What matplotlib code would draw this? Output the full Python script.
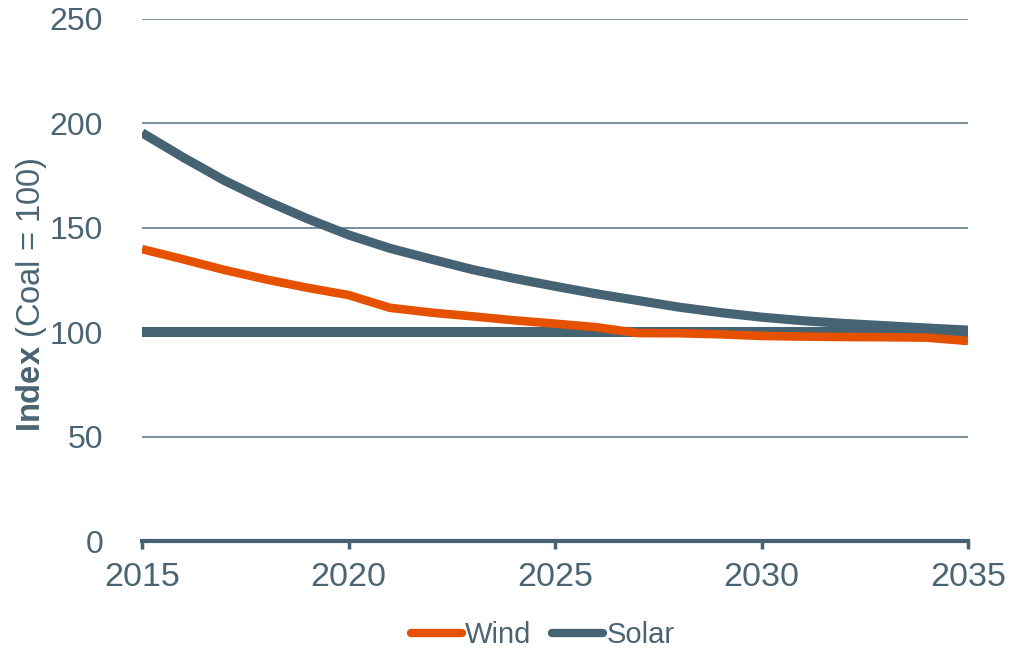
import matplotlib
matplotlib.use("Agg")
import matplotlib.pyplot as plt
from matplotlib.lines import Line2D

plt.rcParams['font.family'] = ['Liberation Sans', 'DejaVu Sans']
plt.rcParams['mathtext.fontset'] = 'custom'
plt.rcParams['mathtext.rm'] = 'Liberation Sans'
plt.rcParams['mathtext.bf'] = 'Liberation Sans:bold'

# Levelised cost index relative to coal (coal = 100)
years = list(range(2015, 2036))
wind = [139.8, 134.9, 129.8, 125.3, 121.3, 117.8, 111.7, 109.4, 107.6, 105.7,
        104.1, 102.4, 99.6, 99.5, 99.0, 98.2, 97.9, 97.7, 97.6, 97.4, 95.8]
solar = [195.5, 183.7, 172.6, 163.0, 154.4, 146.6, 140.2, 135.0, 130.0, 125.8,
         122.0, 118.4, 115.2, 112.0, 109.4, 107.2, 105.5, 104.2, 103.1, 102.0, 101.0]
coal_years = [2015, 2035]
coal = [100, 100]

y_ticks = [0, 50, 100, 150, 200, 250]
x_ticks = [2015, 2020, 2025, 2030, 2035]

SLATE = '#466373'
ORANGE = '#E65100'
TEXT = '#4A6473'
GRID = '#70889A'

fig = plt.figure(figsize=(10.26, 6.48), dpi=100)
ax = fig.add_axes([0.1384, 0.1651, 0.9435 - 0.1384, 0.9707 - 0.1651])

ax.plot(coal_years, coal, color=SLATE, lw=7.2, solid_capstyle='butt', zorder=3)
ax.plot(years, solar, color=SLATE, lw=6.6, solid_capstyle='butt',
        solid_joinstyle='round', zorder=4)
ax.plot(years, wind, color=ORANGE, lw=6.2, solid_capstyle='butt',
        solid_joinstyle='round', zorder=5)

ax.set_xlim(2015, 2035)
ax.set_ylim(0, 250)
ax.set_xticks(x_ticks)
ax.set_yticks(y_ticks)
ax.set_xticklabels([str(t) for t in x_ticks], fontsize=24.5, color=TEXT)
ax.set_yticklabels([str(t) for t in y_ticks], fontsize=23, color=TEXT)

ax.grid(axis='y', color=GRID, lw=1.3, zorder=1)
ax.set_axisbelow(True)
for s in ['left', 'right', 'top']:
    ax.spines[s].set_visible(False)
ax.spines['bottom'].set_color(SLATE)
ax.spines['bottom'].set_linewidth(3)
ax.spines['bottom'].set_zorder(6)
ax.tick_params(axis='x', direction='out', length=6, width=2.5, color=SLATE, pad=9)
ax.tick_params(axis='y', length=0, pad=28)

# Axis title: bold "Index" followed by regular "(Coal = 100)"
fig.text(32 / 1026, 1 - 295 / 648, r'$\mathbf{Index}$ (Coal = 100)', rotation=90,
         fontsize=23.5, color=TEXT, ha='center', va='center')

handles = [Line2D([], [], color=ORANGE, lw=6, solid_capstyle='round'),
           Line2D([], [], color=SLATE, lw=6, solid_capstyle='round')]
fig.legend(handles, ['Wind', 'Solar'], loc='center', bbox_to_anchor=(0.529, 0.02),
           ncol=2, frameon=False, fontsize=21, labelcolor=TEXT,
           handlelength=1.75, handletextpad=0.1, columnspacing=0.72, borderpad=0)

fig.savefig('out.png', dpi=100)
